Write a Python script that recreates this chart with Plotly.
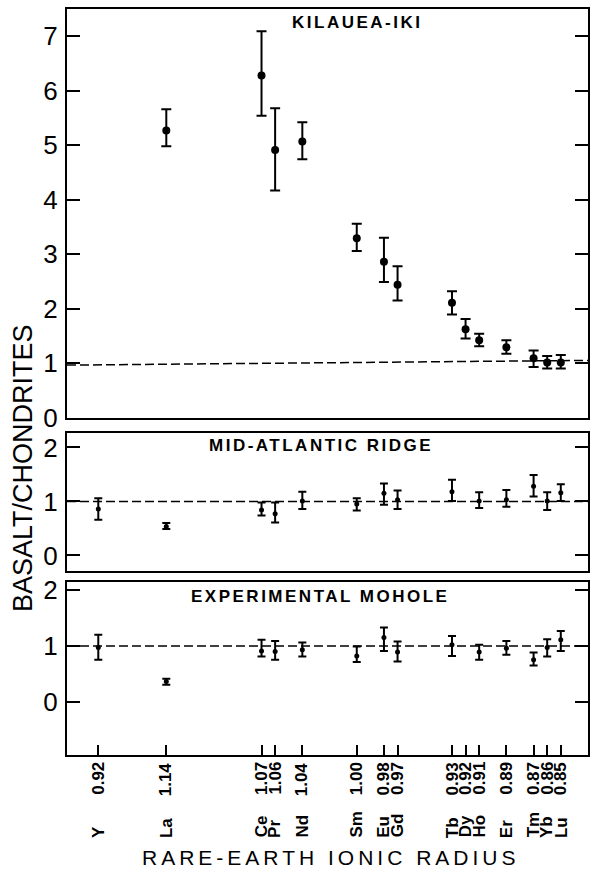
import plotly.graph_objects as go

# Rare-earth elements, in plotting order (Y set apart on the left)
elements = ["Y", "La", "Ce", "Pr", "Nd", "Sm", "Eu", "Gd", "Tb", "Dy", "Ho", "Er", "Tm", "Yb", "Lu"]
ionic_radius = [0.92, 1.14, 1.07, 1.06, 1.04, 1.00, 0.98, 0.97, 0.93, 0.92, 0.91, 0.89, 0.87, 0.86, 0.85]
radius_labels = ["0.92", "1.14", "1.07", "1.06", "1.04", "1.00", "0.98", "0.97",
                 "0.93", "0.92", "0.91", "0.89", "0.87", "0.86", "0.85"]
# yttrium is not a lanthanide: it is drawn left of La instead of at its own radius
yttrium_slot = 1.19

# Kilauea-Iki: ratio to chondrites with upper / lower limits
kilauea = [None, 5.27, 6.28, 4.91, 5.07, 3.29, 2.86, 2.44, 2.11, 1.62, 1.42, 1.29, 1.09, 1.01, 1.01]
kilauea_hi = [None, 5.66, 7.09, 5.68, 5.42, 3.56, 3.30, 2.78, 2.32, 1.81, 1.54, 1.42, 1.23, 1.13, 1.15]
kilauea_lo = [None, 4.98, 5.54, 4.17, 4.74, 3.06, 2.49, 2.15, 1.89, 1.45, 1.31, 1.17, 0.93, 0.90, 0.90]

# Mid-Atlantic Ridge
ridge = [0.86, 0.535, 0.84, 0.77, 1.01, 0.95, 1.15, 1.03, 1.18, None, 1.01, 1.03, 1.28, 1.01, 1.16]
ridge_hi = [1.06, 0.60, 0.98, 0.98, 1.18, 1.06, 1.33, 1.20, 1.40, None, 1.17, 1.21, 1.49, 1.17, 1.32]
ridge_lo = [0.66, 0.49, 0.74, 0.61, 0.86, 0.83, 0.94, 0.86, 1.01, None, 0.88, 0.90, 1.09, 0.84, 1.01]

# Experimental Mohole
mohole = [0.97, 0.36, 0.91, 0.90, 0.93, 0.82, 1.15, 0.89, 1.02, None, 0.89, 0.96, 0.75, 0.97, 1.11]
mohole_hi = [1.20, 0.41, 1.11, 1.09, 1.06, 0.99, 1.33, 1.08, 1.18, None, 1.02, 1.09, 0.88, 1.12, 1.27]
mohole_lo = [0.75, 0.30, 0.81, 0.75, 0.81, 0.71, 0.91, 0.72, 0.82, None, 0.75, 0.84, 0.65, 0.81, 0.91]

# chondrite-normalised reference level (ends of the dashed line)
kilauea_ref = [0.963, 1.05]
unit_ref = [1.0, 1.0]

x_pos = [yttrium_slot if el == "Y" else r for el, r in zip(elements, ionic_radius)]


def panel(mid, hi, lo, xa, ya, msize, cap):
    xs, ys, up, dn = [], [], [], []
    for x, m, h, l in zip(x_pos, mid, hi, lo):
        if m is None:
            continue
        xs.append(x)
        ys.append(m)
        up.append(h - m)
        dn.append(m - l)
    return go.Scatter(
        x=xs, y=ys, xaxis=xa, yaxis=ya, mode="markers",
        marker=dict(color="black", size=msize),
        error_y=dict(type="data", symmetric=False, array=up, arrayminus=dn,
                     color="black", thickness=2, width=cap),
        showlegend=False, hoverinfo="skip",
    )


fig = go.Figure()
fig.add_trace(panel(kilauea, kilauea_hi, kilauea_lo, "x", "y", 8, 5))
fig.add_trace(panel(ridge, ridge_hi, ridge_lo, "x2", "y2", 5, 4))
fig.add_trace(panel(mohole, mohole_hi, mohole_lo, "x3", "y3", 5, 4))

FONT = "Liberation Sans, Arial, sans-serif"
x_range = [1.213, 0.830]

frame = dict(showline=True, linewidth=2, linecolor="black", showgrid=False, zeroline=False)
xcommon = dict(frame, range=x_range, mirror=True)
ycommon = dict(frame, mirror="ticks", ticks="inside", ticklen=13, tickwidth=2, tickcolor="black",
               tickfont=dict(family=FONT, size=26, color="black"), ticklabelstandoff=2)

fig.update_layout(
    width=592, height=875,
    margin=dict(l=67, r=2, t=7, b=120),
    paper_bgcolor="white", plot_bgcolor="white",
    xaxis=dict(xcommon, anchor="y", ticks="", showticklabels=False),
    xaxis2=dict(xcommon, anchor="y2", ticks="", showticklabels=False),
    xaxis3=dict(xcommon, anchor="y3", ticks="inside", ticklen=10, tickwidth=1.5, tickcolor="black",
                tickvals=x_pos, showticklabels=False),
    yaxis=dict(ycommon, domain=[0.4523, 1.0], range=[0, 7.5], tickvals=list(range(8)), anchor="x"),
    yaxis2=dict(ycommon, domain=[0.2473, 0.4311], range=[-0.28, 2.26], tickvals=[0, 1, 2], anchor="x2"),
    yaxis3=dict(ycommon, domain=[0.0, 0.2313], range=[-0.96, 2.14], tickvals=[0, 1, 2], anchor="x3"),
)

# dashed chondrite reference lines
for yref, ref in (("y", kilauea_ref), ("y2", unit_ref), ("y3", unit_ref)):
    xa = "x" if yref == "y" else "x" + yref[1:]
    fig.add_shape(type="line", xref=xa + " domain", yref=yref, x0=0, x1=1, y0=ref[0], y1=ref[1],
                  line=dict(color="black", width=1.5, dash="9px,4px"), layer="below")

annotations = []
# panel titles
for text, x, y in (("KILAUEA-IKI", 0.556, 0.9813),
                   ("MID-ATLANTIC RIDGE", 0.4876, 0.4144),
                   ("EXPERIMENTAL MOHOLE", 0.4857, 0.2126)):
    annotations.append(dict(text=f'<span style="letter-spacing:2.5px">{text}</span>',
                            xref="paper", yref="paper", x=x, y=y,
                            xanchor="center", yanchor="middle", showarrow=False,
                            font=dict(family=FONT, size=17, color="black", weight="bold")))

# radius and element labels under the bottom panel
for x, lab, el in zip(x_pos, radius_labels, elements):
    annotations.append(dict(text=lab, xref="x3", yref="paper", x=x, y=-0.008,
                            xanchor="center", yanchor="top", textangle=-90, showarrow=False,
                            borderpad=0,
                            font=dict(family=FONT, size=17, color="black", weight="bold")))
    annotations.append(dict(text=el, xref="x3", yref="paper", x=x, y=-0.1123,
                            xanchor="center", yanchor="bottom", textangle=-90, showarrow=False,
                            borderpad=0,
                            font=dict(family=FONT, size=17, color="black", weight="bold")))

# axis titles
annotations.append(dict(text='<span style="letter-spacing:4px">RARE-EARTH IONIC RADIUS</span>',
                        xref="paper", yref="paper", x=0.505, y=-0.1377,
                        xanchor="center", yanchor="middle", showarrow=False,
                        font=dict(family=FONT, size=21, color="black")))
annotations.append(dict(text="BASALT/CHONDRITES", xref="paper", yref="paper", x=-0.0841, y=0.385,
                        xanchor="center", yanchor="middle", textangle=-90, showarrow=False,
                        font=dict(family=FONT, size=27, color="black")))

fig.update_layout(annotations=annotations)

fig.write_html("out.html")
